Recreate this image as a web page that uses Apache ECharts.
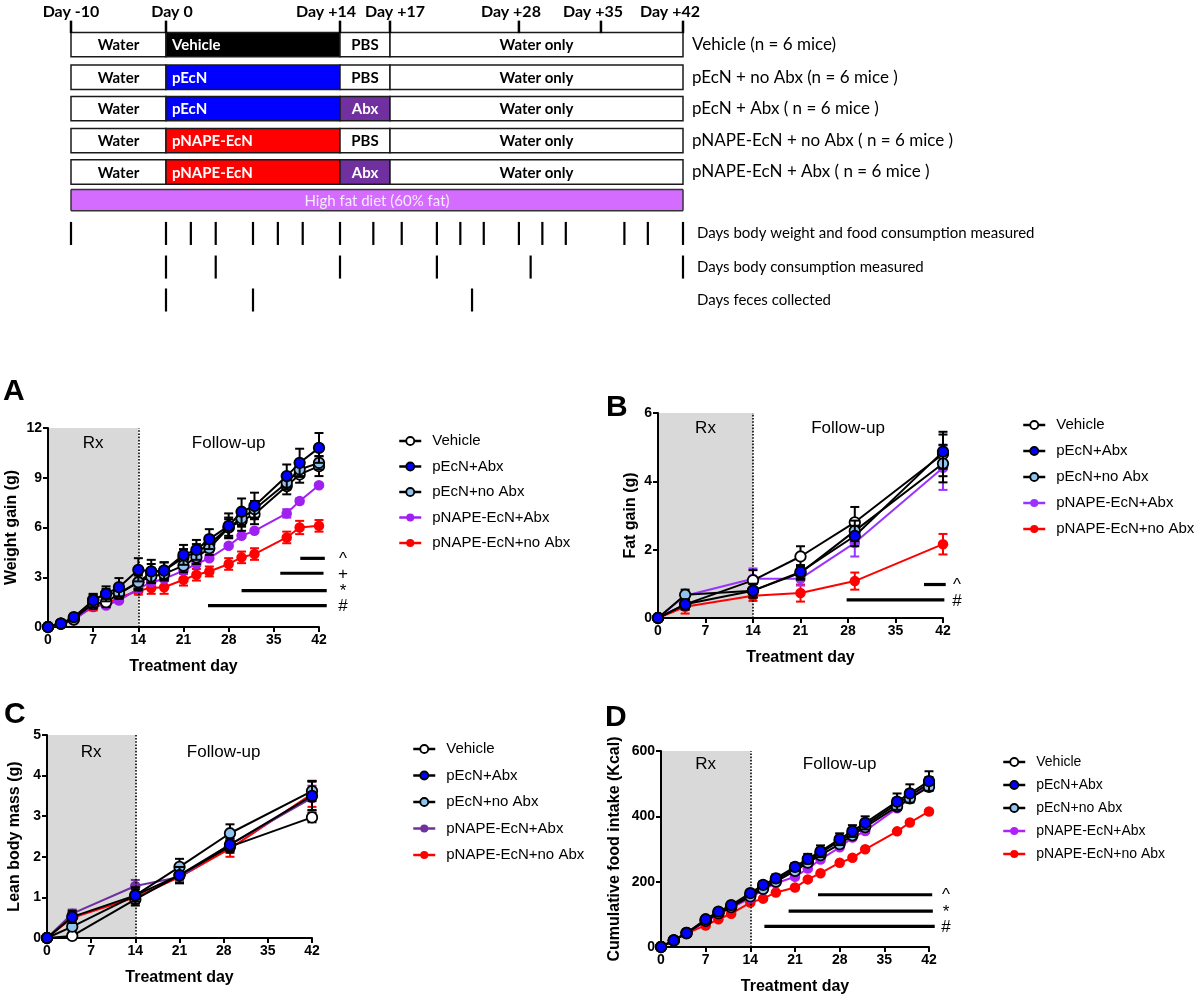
<!DOCTYPE html>
<html><head><meta charset="utf-8">
<script src="https://cdn.jsdelivr.net/npm/echarts@6/dist/echarts.min.js"></script>
<style>html,body{margin:0;padding:0;background:#fff}#c{width:1200px;height:996px}</style>
</head><body><div id="c"></div>
<script>
// ---------------- DATA ----------------
// Study schematic
const phaseBounds = [-10, 0, 14, 17, 42];
const timelineDays = [-10, 0, 14, 17, 28, 35, 42];
const timelineLabels = ['Day -10', 'Day 0', 'Day +14', 'Day +17', 'Day +28', 'Day +35', 'Day +42'];
const groupLabels = ['Vehicle (n = 6 mice)', 'pEcN + no Abx (n = 6 mice )', 'pEcN + Abx ( n = 6 mice )', 'pNAPE-EcN + no Abx ( n = 6 mice )', 'pNAPE-EcN + Abx ( n = 6 mice )'];
const preTreatment = ['Water', 'Water', 'Water', 'Water', 'Water'];
const treatmentNames = ['Vehicle', 'pEcN', 'pEcN', 'pNAPE-EcN', 'pNAPE-EcN'];
const washNames = ['PBS', 'PBS', 'Abx', 'PBS', 'Abx'];
const followNames = ['Water only', 'Water only', 'Water only', 'Water only', 'Water only'];
const dietLabel = 'High fat diet (60% fat)';
const weighDays = [-10, 0, 2, 4, 7, 9, 11, 14, 16, 18, 21, 23, 25, 28, 30, 32, 37, 39, 42];
const compositionDaysSched = [0, 4, 14, 21, 29, 42];
const fecesDays = [0, 7, 24];
const measureLabels = ['Days body weight and food consumption measured', 'Days body consumption measured', 'Days feces collected'];

// Panels
const groupNames = ['Vehicle', 'pEcN+Abx', 'pEcN+no Abx', 'pNAPE-EcN+Abx', 'pNAPE-EcN+no Abx'];
const dailyDays = [0, 2, 4, 7, 9, 11, 14, 16, 18, 21, 23, 25, 28, 30, 32, 37, 39, 42];
const compositionDays = [0, 4, 14, 21, 29, 42];

// A: weight gain (g)
const weightVehicle = [0, 0.2, 0.5, 1.4, 1.5, 2.0, 2.7, 3.3, 3.4, 4.2, 4.5, 5.0, 6.0, 6.4, 6.8, 8.5, 9.2, 9.7];
const weightPEcNAbx = [0, 0.2, 0.6, 1.6, 2.0, 2.4, 3.45, 3.35, 3.4, 4.35, 4.65, 5.3, 6.1, 6.95, 7.3, 9.1, 9.9, 10.8];
const weightPEcNNoAbx = [0, 0.2, 0.45, 1.65, 2.0, 2.05, 2.7, 3.05, 3.2, 3.7, 4.2, 4.75, 6.0, 6.55, 7.1, 8.7, 9.5, 9.9];
const weightNapeAbx = [0, 0.15, 0.4, 1.3, 1.3, 1.6, 2.3, 2.7, 2.9, 3.4, 3.8, 4.15, 4.9, 5.5, 5.8, 6.85, 7.6, 8.55];
const weightNapeNoAbx = [0, 0.2, 0.5, 1.2, 1.4, 1.75, 2.2, 2.35, 2.4, 2.85, 3.15, 3.35, 3.8, 4.2, 4.4, 5.4, 6.0, 6.1];
const weightVehicleSem = [0, 0.05, 0.1, 0.3, 0.3, 0.3, 0.5, 0.5, 0.5, 0.5, 0.5, 0.5, 0.6, 0.6, 0.6, 0.5, 0.5, 0.6];
const weightPEcNAbxSem = [0, 0.05, 0.1, 0.4, 0.45, 0.55, 0.7, 0.7, 0.5, 0.6, 0.6, 0.6, 0.75, 0.8, 0.8, 0.7, 0.85, 0.9];
const weightPEcNNoAbxSem = [0, 0.05, 0.1, 0.3, 0.3, 0.3, 0.4, 0.4, 0.4, 0.4, 0.4, 0.4, 0.5, 0.5, 0.5, 0.4, 0.4, 0.4];
const weightNapeAbxSem = [0, 0, 0.05, 0.1, 0.1, 0.1, 0.1, 0.1, 0.1, 0.1, 0.1, 0.1, 0.1, 0.1, 0.1, 0.25, 0.15, 0.1];
const weightNapeNoAbxSem = [0, 0.05, 0.1, 0.2, 0.2, 0.2, 0.25, 0.35, 0.4, 0.35, 0.35, 0.3, 0.35, 0.35, 0.35, 0.35, 0.4, 0.35];
const weightSigFrom = [39.1, 36.0, 30.0, 24.8];
const weightSigTo = [42.9, 42.7, 43.2, 43.2];
const weightSigLevel = [4.14, 3.24, 2.19, 1.29];
const weightSigMark = ['^', '+', '*', '#'];

// B: fat gain (g)
const fatVehicle = [0, 0.4, 1.1, 1.8, 2.8, 4.8];
const fatPEcNAbx = [0, 0.4, 0.8, 1.35, 2.4, 4.87];
const fatPEcNNoAbx = [0, 0.68, 0.8, 1.32, 2.55, 4.52];
const fatNapeAbx = [0, 0.65, 1.15, 1.15, 2.2, 4.4];
const fatNapeNoAbx = [0, 0.33, 0.65, 0.73, 1.08, 2.16];
const fatVehicleSem = [0, 0.15, 0.3, 0.3, 0.45, 0.65];
const fatPEcNAbxSem = [0, 0.15, 0.2, 0.2, 0.3, 0.5];
const fatPEcNNoAbxSem = [0, 0.15, 0.2, 0.2, 0.3, 0.55];
const fatNapeAbxSem = [0, 0.1, 0.3, 0.2, 0.4, 0.65];
const fatNapeNoAbxSem = [0, 0.2, 0.15, 0.25, 0.25, 0.3];
const fatSigFrom = [39.2, 27.8];
const fatSigTo = [42.4, 42.2];
const fatSigLevel = [0.98, 0.53];
const fatSigMark = ['^', '#'];

// C: lean body mass (g)
const leanVehicle = [0, 0.05, 0.95, 1.55, 2.25, 2.97];
const leanPEcNAbx = [0, 0.52, 1.05, 1.55, 2.3, 3.5];
const leanPEcNNoAbx = [0, 0.28, 1.05, 1.75, 2.58, 3.62];
const leanNapeAbx = [0, 0.6, 1.28, 1.5, 2.3, 3.45];
const leanNapeNoAbx = [0, 0.5, 1.0, 1.5, 2.2, 3.55];
const leanVehicleSem = [0, 0.05, 0.15, 0.2, 0.15, 0.12];
const leanPEcNAbxSem = [0, 0.15, 0.2, 0.2, 0.15, 0.35];
const leanPEcNNoAbxSem = [0, 0.1, 0.15, 0.2, 0.22, 0.25];
const leanNapeAbxSem = [0, 0.1, 0.15, 0.1, 0.15, 0.3];
const leanNapeNoAbxSem = [0, 0.1, 0.1, 0.1, 0.2, 0.32];

// D: cumulative food intake (Kcal)
const foodVehicle = [0, 20, 43, 82, 105, 125, 160, 185, 205, 240, 262, 288, 325, 348, 373, 438, 463, 500];
const foodPEcNAbx = [0, 20, 43, 85, 108, 128, 165, 190, 210, 245, 270, 293, 330, 355, 380, 445, 470, 508];
const foodPEcNNoAbx = [0, 20, 42, 80, 103, 122, 155, 178, 200, 233, 258, 281, 315, 342, 367, 430, 455, 490];
const foodNapeAbx = [0, 20, 42, 78, 100, 120, 150, 175, 195, 215, 240, 268, 305, 335, 355, 425, 455, 495];
const foodNapeNoAbx = [0, 20, 42, 66, 85, 102, 136, 148, 167, 182, 207, 226, 258, 273, 299, 354, 381, 415];
const foodVehicleSem = [0, 2, 3, 5, 5, 5, 8, 8, 10, 10, 12, 12, 15, 15, 15, 18, 18, 20];
const foodPEcNAbxSem = [0, 2, 3, 6, 6, 6, 10, 10, 12, 12, 15, 18, 18, 18, 20, 25, 28, 30];
const foodPEcNNoAbxSem = [0, 2, 3, 4, 4, 4, 6, 6, 6, 6, 8, 8, 8, 8, 10, 10, 10, 10];
const foodNapeAbxSem = [0, 1, 2, 3, 3, 3, 4, 4, 5, 5, 6, 6, 6, 6, 6, 6, 6, 6];
const foodNapeNoAbxSem = [0, 1, 1, 2, 2, 2, 3, 3, 3, 3, 3, 3, 3, 3, 3, 3, 3, 3];
const foodSigFrom = [24.6, 20.0, 16.2];
const foodSigTo = [42.5, 42.6, 42.9];
const foodSigLevel = [160, 110, 63];
const foodSigMark = ['^', '*', '#'];

// ---------------- STYLE / LAYOUT ----------------
const ARIAL = "'Liberation Sans', Arial, sans-serif";
const CAL = "Lato, 'Open Sans', sans-serif";
const segLayout = [{ left: 71, width: 95 }, { left: 166, width: 174 }, { left: 340, width: 50 }, { left: 390, width: 293 }];
const schemY = { min: -0.375, max: 9.5, top: 0, height: 316 };
const groupRowPos = [1.02, 2.04, 3.02, 4.02, 5.0];
const dietRowPos = 5.88;
const measureRowPos = [6.92, 7.97, 9.0];
const headLabelShift = [0, 6, -14, 5, -8, -8, -13];
const boxStyle = {
  Water: { fill: '#ffffff', text: '#000', align: 'center' },
  'Water only': { fill: '#ffffff', text: '#000', align: 'center' },
  Vehicle: { fill: '#000000', text: '#fff', align: 'left' },
  pEcN: { fill: '#0000ff', text: '#fff', align: 'left' },
  'pNAPE-EcN': { fill: '#ff0000', text: '#fff', align: 'left' },
  PBS: { fill: '#ffffff', text: '#000', align: 'center' },
  Abx: { fill: '#7030a0', text: '#fff', align: 'center' }
};
const groupStyleBase = {
  'Vehicle': { fill: '#ffffff', line: '#000000', border: '#000000', bw: 1.8 },
  'pEcN+Abx': { fill: '#0000ff', line: '#000000', border: '#000000', bw: 1.8 },
  'pEcN+no Abx': { fill: '#8fc3f0', line: '#000000', border: '#000000', bw: 1.8 },
  'pNAPE-EcN+Abx': { fill: '#a020f0', line: '#a020f0', border: '#a020f0', bw: 0 },
  'pNAPE-EcN+no Abx': { fill: '#ff0000', line: '#ff0000', border: '#ff0000', bw: 0 }
};

const panels = [
  { letter: 'A', days: dailyDays, yMax: 12, yInt: 3, yName: 'Weight gain (g)',
    values: [weightVehicle, weightPEcNAbx, weightPEcNNoAbx, weightNapeAbx, weightNapeNoAbx],
    sems: [weightVehicleSem, weightPEcNAbxSem, weightPEcNNoAbxSem, weightNapeAbxSem, weightNapeNoAbxSem],
    sig: { from: weightSigFrom, to: weightSigTo, level: weightSigLevel, mark: weightSigMark } },
  { letter: 'B', days: compositionDays, yMax: 6, yInt: 2, yName: 'Fat gain (g)',
    values: [fatVehicle, fatPEcNAbx, fatPEcNNoAbx, fatNapeAbx, fatNapeNoAbx],
    sems: [fatVehicleSem, fatPEcNAbxSem, fatPEcNNoAbxSem, fatNapeAbxSem, fatNapeNoAbxSem],
    sig: { from: fatSigFrom, to: fatSigTo, level: fatSigLevel, mark: fatSigMark } },
  { letter: 'C', days: compositionDays, yMax: 5, yInt: 1, yName: 'Lean body mass (g)',
    values: [leanVehicle, leanPEcNAbx, leanPEcNNoAbx, leanNapeAbx, leanNapeNoAbx],
    sems: [leanVehicleSem, leanPEcNAbxSem, leanPEcNNoAbxSem, leanNapeAbxSem, leanNapeNoAbxSem],
    sig: null },
  { letter: 'D', days: dailyDays, yMax: 600, yInt: 200, yName: 'Cumulative food intake (Kcal)',
    values: [foodVehicle, foodPEcNAbx, foodPEcNNoAbx, foodNapeAbx, foodNapeNoAbx],
    sems: [foodVehicleSem, foodPEcNAbxSem, foodPEcNNoAbxSem, foodNapeAbxSem, foodNapeNoAbxSem],
    sig: { from: foodSigFrom, to: foodSigTo, level: foodSigLevel, mark: foodSigMark } }
];
const panelLayout = [
  { grid: { left: 48, top: 428, width: 271, height: 199 }, title: { left: 3, top: 377 }, legend: { left: 398, top: 432, gap: 7.5, font: 15 }, yGap: 28, sym: 10.5, sigOff: 24, purple: '#a020f0', areaDist: 7 },
  { grid: { left: 658, top: 413, width: 285, height: 205 }, title: { left: 606, top: 393 }, legend: { left: 1022, top: 416, gap: 8, font: 15 }, yGap: 19, sym: 10.5, sigOff: 14, purple: '#9933ff', areaDist: 7 },
  { grid: { left: 47, top: 735, width: 265, height: 203 }, title: { left: 4, top: 700 }, legend: { left: 412, top: 740, gap: 8.5, font: 15 }, yGap: 24, sym: 10.5, sigOff: 16, purple: '#7030a0', areaDist: 9 },
  { grid: { left: 661, top: 751, width: 268, height: 196 }, title: { left: 605, top: 703 }, legend: { left: 1002, top: 753, gap: 5, font: 14 }, yGap: 38, sym: 10.5, sigOff: 17, purple: '#b020f8', areaDist: 5 }
];
const drawOrder = [4, 3, 0, 2, 1];

// ---------------- BUILD ----------------
const segRanges = phaseBounds.slice(0, -1).map((lo, i) => [lo, phaseBounds[i + 1]]);
function segOf(d) {
  for (let i = 0; i < segRanges.length; i++) if (d >= segRanges[i][0] && d < segRanges[i][1]) return i;
  return segRanges.length - 1;
}
const schemEls = [];
groupLabels.forEach((g, r) => {
  const names = [preTreatment[r], treatmentNames[r], washNames[r], followNames[r]];
  names.forEach((n, k) => schemEls.push({ kind: 'box', from: phaseBounds[k], to: phaseBounds[k + 1], row: groupRowPos[r], text: n, seg: k }));
  schemEls.push({ kind: 'note', from: phaseBounds[4], to: phaseBounds[4], row: groupRowPos[r], text: g, seg: 3, off: 9, size: 17 });
});
segRanges.forEach((rg, s) => schemEls.push({ kind: 'diet', from: rg[0], to: rg[1], row: dietRowPos, seg: s, first: s === 0, last: s === segRanges.length - 1 }));
timelineDays.forEach((d, i) => schemEls.push({ kind: 'head', from: d, to: d, row: 0, text: timelineLabels[i], seg: segOf(d), shift: headLabelShift[i] }));
[weighDays, compositionDaysSched, fecesDays].forEach((arr, k) => {
  arr.forEach(d => schemEls.push({ kind: 'mtick', from: d, to: d, row: measureRowPos[k], seg: segOf(d) }));
  schemEls.push({ kind: 'note', from: phaseBounds[4], to: phaseBounds[4], row: measureRowPos[k], text: measureLabels[k], seg: 3, off: 14, size: 15 });
});

function schemRender(els) {
  return function (params, api) {
    const e = els[params.dataIndex];
    const a = api.coord([e.from, e.row]);
    const b = api.coord([e.to, e.row]);
    const unit = Math.abs(api.size([0, 1])[1]);
    if (e.kind === 'box') {
      const h = unit * 0.76, st = boxStyle[e.text];
      return { type: 'group', children: [
        { type: 'rect', shape: { x: a[0], y: a[1] - h / 2, width: b[0] - a[0], height: h }, style: { fill: st.fill, stroke: '#1a1a1a', lineWidth: 1.5 } },
        { type: 'text', x: st.align === 'left' ? a[0] + 6 : (a[0] + b[0]) / 2, y: a[1] + 1, style: { text: e.text, fill: st.text, font: 'bold 15px ' + CAL, align: st.align, verticalAlign: 'middle' } }
      ] };
    }
    if (e.kind === 'diet') {
      const h = unit * 0.66, y0 = a[1] - h / 2, y1 = a[1] + h / 2;
      const ch = [
        { type: 'rect', shape: { x: a[0], y: y0, width: b[0] - a[0] + (e.last ? 0 : 1), height: h }, style: { fill: '#d46cff' } },
        { type: 'line', shape: { x1: a[0], y1: y0, x2: b[0], y2: y0 }, style: { stroke: '#333', lineWidth: 1.5 } },
        { type: 'line', shape: { x1: a[0], y1: y1, x2: b[0], y2: y1 }, style: { stroke: '#333', lineWidth: 1.5 } }
      ];
      if (e.first) ch.push({ type: 'line', shape: { x1: a[0], y1: y0, x2: a[0], y2: y1 }, style: { stroke: '#333', lineWidth: 1.5 } });
      if (e.last) ch.push({ type: 'line', shape: { x1: b[0], y1: y0, x2: b[0], y2: y1 }, style: { stroke: '#333', lineWidth: 1.5 } });
      return { type: 'group', children: ch };
    }
    if (e.kind === 'head') {
      const t0 = api.coord([e.from, 0.27]), t1 = api.coord([e.from, 0.66]);
      return { type: 'group', children: [
        { type: 'line', shape: { x1: t0[0], y1: t0[1], x2: t1[0], y2: t1[1] }, style: { stroke: '#000', lineWidth: 2.5 } },
        { type: 'text', x: a[0] + e.shift, y: a[1], style: { text: e.text, fill: '#000', font: 'bold 16px ' + CAL, align: 'center', verticalAlign: 'middle' } }
      ] };
    }
    if (e.kind === 'mtick') {
      const h = unit * 0.72;
      return { type: 'line', shape: { x1: a[0], y1: a[1] - h / 2, x2: a[0], y2: a[1] + h / 2 }, style: { stroke: '#000', lineWidth: 2.2 } };
    }
    if (e.kind === 'note') {
      return { type: 'text', x: a[0] + e.off, y: a[1], style: { text: e.text, fill: '#000', font: e.size + 'px ' + CAL, align: 'left', verticalAlign: 'middle' } };
    }
    return { type: 'group', children: [] };
  };
}

const grids = [], xAxes = [], yAxes = [], series = [], titles = [], legends = [];
segRanges.forEach((rg, s) => {
  grids.push({ left: segLayout[s].left, width: segLayout[s].width, top: schemY.top, height: schemY.height });
  xAxes.push({ type: 'value', gridIndex: s, min: rg[0], max: rg[1], show: false });
  yAxes.push({ type: 'value', gridIndex: s, min: schemY.min, max: schemY.max, inverse: true, show: false });
  const els = schemEls.filter(e => e.seg === s);
  series.push({ type: 'custom', xAxisIndex: s, yAxisIndex: s, silent: true, clip: false, z: 2,
    data: els.map(e => [e.from, e.row, e.to]), encode: { x: [0, 2], y: 1 }, renderItem: schemRender(els) });
});

function errRender(color) {
  return function (params, api) {
    const x = api.value(0), y = api.value(1), e = api.value(2);
    if (!e) return { type: 'group', children: [] };
    const t = api.coord([x, y + e]), b = api.coord([x, y - e]), cw = 4.5;
    const st = { stroke: color, lineWidth: 2 };
    return { type: 'group', children: [
      { type: 'line', shape: { x1: t[0], y1: t[1], x2: b[0], y2: b[1] }, style: st },
      { type: 'line', shape: { x1: t[0] - cw, y1: t[1], x2: t[0] + cw, y2: t[1] }, style: st },
      { type: 'line', shape: { x1: b[0] - cw, y1: b[1], x2: b[0] + cw, y2: b[1] }, style: st }
    ] };
  };
}
function sigRender(marks, off) {
  return function (params, api) {
    const lv = api.value(1);
    const a = api.coord([api.value(0), lv]), b = api.coord([api.value(2), lv]), m = api.coord([42, lv]);
    return { type: 'group', children: [
      { type: 'line', shape: { x1: a[0], y1: a[1], x2: b[0], y2: b[1] }, style: { stroke: '#000', lineWidth: 3.2 } },
      { type: 'text', x: m[0] + off, y: a[1] + 1, style: { text: marks[params.dataIndex], fill: '#000', font: '17px ' + ARIAL, align: 'center', verticalAlign: 'middle' } }
    ] };
  };
}

panels.forEach((p, pi) => {
  const L = panelLayout[pi], g = segRanges.length + pi;
  const gs = name => Object.assign({}, groupStyleBase[name], name === 'pNAPE-EcN+Abx' ? { fill: L.purple, line: L.purple, border: L.purple } : {});
  grids.push(L.grid);
  xAxes.push({ type: 'value', gridIndex: g, min: 0, max: 42, interval: 7,
    name: 'Treatment day', nameLocation: 'middle', nameGap: 32,
    nameTextStyle: { fontFamily: ARIAL, fontWeight: 'bold', fontSize: 16, color: '#000' },
    axisLine: { lineStyle: { color: '#000', width: 2 } }, axisTick: { length: 5, lineStyle: { color: '#000', width: 2 } },
    axisLabel: { fontFamily: ARIAL, fontWeight: 'bold', fontSize: 14, color: '#000', margin: 6 }, splitLine: { show: false } });
  yAxes.push({ type: 'value', gridIndex: g, min: 0, max: p.yMax, interval: p.yInt,
    name: p.yName, nameLocation: 'middle', nameGap: L.yGap, nameRotate: 90,
    nameTextStyle: { fontFamily: ARIAL, fontWeight: 'bold', fontSize: 16, color: '#000', verticalAlign: 'bottom' },
    axisLine: { show: true, lineStyle: { color: '#000', width: 2 } }, axisTick: { show: true, length: 5, lineStyle: { color: '#000', width: 2 } },
    axisLabel: { fontFamily: ARIAL, fontWeight: 'bold', fontSize: 14, color: '#000', margin: 6 }, splitLine: { show: false } });
  titles.push({ text: p.letter, left: L.title.left, top: L.title.top, padding: 0, textStyle: { fontFamily: ARIAL, fontWeight: 'bold', fontSize: 30, color: '#000' } });
  legends.push({ orient: 'vertical', left: L.legend.left, top: L.legend.top, padding: 0, itemGap: L.legend.gap, itemWidth: 22, itemHeight: 10,
    textStyle: { fontFamily: ARIAL, fontSize: L.legend.font, color: '#000', lineHeight: 18, padding: [0, 0, 0, 6] }, selectedMode: false,
    data: groupNames.map(n => { const s = gs(n); return { name: n, itemStyle: { color: s.fill, borderColor: s.border, borderWidth: s.bw }, lineStyle: { color: s.line, width: 2.5 } }; }) });
  drawOrder.forEach((k, oi) => {
    const name = groupNames[k], s = gs(name);
    series.push({ type: 'custom', xAxisIndex: g, yAxisIndex: g, silent: true, clip: false, z: 3 + oi,
      data: p.days.map((d, i) => [d, p.values[k][i], p.sems[k][i]]), encode: { x: 0, y: 1 }, renderItem: errRender(s.line) });
    const ls = { type: 'line', name: name, xAxisIndex: g, yAxisIndex: g, z: 3 + oi, symbol: 'circle', symbolSize: L.sym,
      data: p.days.map((d, i) => [d, p.values[k][i]]), showSymbol: true, clip: false,
      itemStyle: { color: s.fill, borderColor: s.border, borderWidth: s.bw }, lineStyle: { color: s.line, width: 2 },
      emphasis: { disabled: true } };
    if (oi === 0) {
      ls.markArea = { silent: true, z: 0,
        label: { show: true, position: 'insideTop', distance: L.areaDist, fontFamily: ARIAL, fontSize: 17, color: '#000' },
        data: [[{ xAxis: 0, name: 'Rx', itemStyle: { color: '#d9d9d9' } }, { xAxis: 14 }],
               [{ xAxis: 14, name: 'Follow-up', itemStyle: { color: 'rgba(0,0,0,0)' } }, { xAxis: 42 }]] };
      ls.markLine = { silent: true, symbol: 'none', label: { show: false }, lineStyle: { type: 'dotted', color: '#000', width: 1.6 }, data: [{ xAxis: 14 }] };
    }
    series.push(ls);
  });
  if (p.sig) {
    series.push({ type: 'custom', xAxisIndex: g, yAxisIndex: g, silent: true, clip: false, z: 20,
      data: p.sig.from.map((f, i) => [f, p.sig.level[i], p.sig.to[i]]), encode: { x: [0, 2], y: 1 },
      renderItem: sigRender(p.sig.mark, L.sigOff) });
  }
});

const chart = echarts.init(document.getElementById('c'));
chart.setOption({ animation: false, backgroundColor: '#fff', title: titles, legend: legends, grid: grids, xAxis: xAxes, yAxis: yAxes, series: series });
const dl = chart.convertToPixel({ gridIndex: 0 }, [phaseBounds[0], dietRowPos]);
const dr = chart.convertToPixel({ gridIndex: segRanges.length - 1 }, [phaseBounds[phaseBounds.length - 1], dietRowPos]);
chart.setOption({ graphic: [{ type: 'text', x: (dl[0] + dr[0]) / 2, y: dl[1] + 1, z: 100, silent: true,
  style: { text: dietLabel, fill: '#f6eaff', font: '15px ' + CAL, align: 'center', verticalAlign: 'middle' } }] });
</script></body></html>
